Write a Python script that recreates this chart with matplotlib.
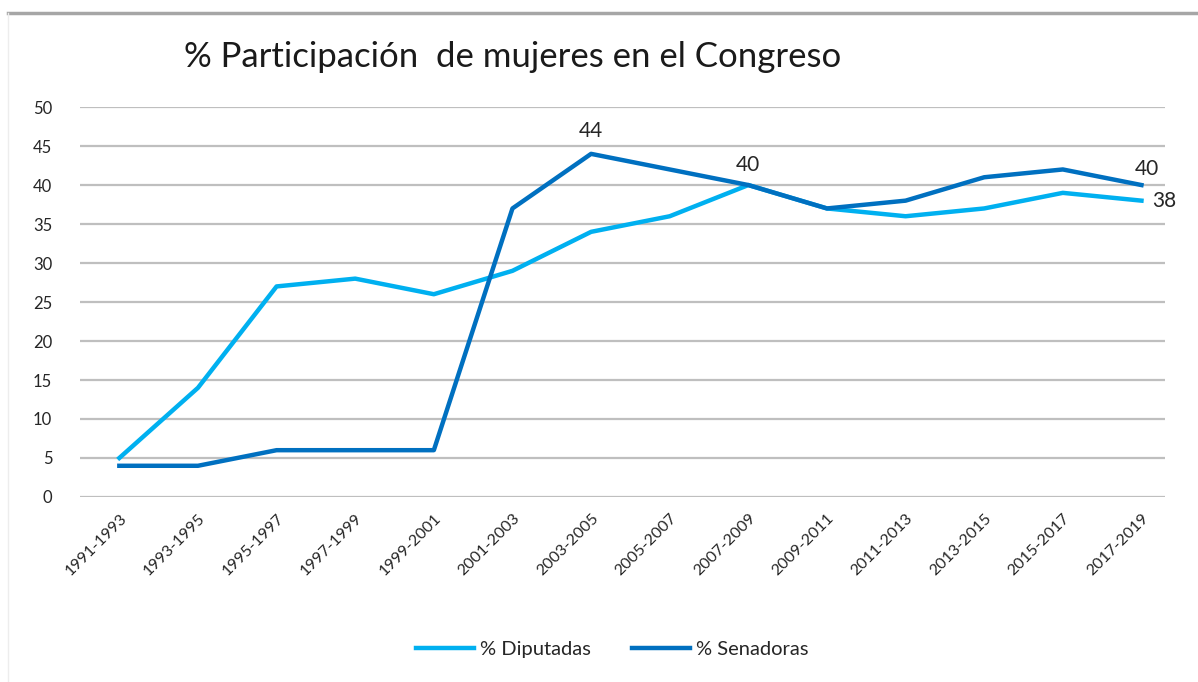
import matplotlib
matplotlib.use("Agg")
import matplotlib.pyplot as plt
from matplotlib.lines import Line2D

plt.rcParams['font.family'] = ['Lato', 'DejaVu Sans']

periods = ["1991-1993", "1993-1995", "1995-1997", "1997-1999", "1999-2001",
           "2001-2003", "2003-2005", "2005-2007", "2007-2009", "2009-2011",
           "2011-2013", "2013-2015", "2015-2017", "2017-2019"]
diputadas = [5, 14, 27, 28, 26, 29, 34, 36, 40, 37, 36, 37, 39, 38]
senadoras = [4, 4, 6, 6, 6, 37, 44, 42, 40, 37, 38, 41, 42, 40]
yticks = [0, 5, 10, 15, 20, 25, 30, 35, 40, 45, 50]

c_dip = "#00B0F0"
c_sen = "#0070C0"
txt = "#262626"

fig = plt.figure(figsize=(11.98, 6.82), dpi=100)
ax = fig.add_axes([0.0668, 0.2713, 0.9057, 0.5717])

x = list(range(len(periods)))
ax.plot(x, diputadas, color=c_dip, lw=3.2, solid_joinstyle='round', zorder=3)
ax.plot(x, senadoras, color=c_sen, lw=3.2, solid_joinstyle='round', zorder=4)

ax.set_ylim(0, 50)
ax.set_xlim(-0.5, 13.3)
ax.set_yticks(yticks)
ax.set_yticklabels([str(t) for t in yticks], fontsize=12, color=txt)
ax.set_xticks(x)
ax.set_xticklabels(periods, rotation=45, ha='right', rotation_mode='anchor',
                   fontsize=11.5, color=txt)
ax.tick_params(axis='both', length=0)
ax.tick_params(axis='y', pad=20)
ax.tick_params(axis='x', pad=10)
for s in ax.spines.values():
    s.set_visible(False)
ax.grid(axis='y', color='#BFBFBF', lw=1.6, zorder=0)
ax.set_axisbelow(True)

# data labels
ax.annotate(str(senadoras[6]), (6, senadoras[6]), xytext=(0, 9), textcoords='offset points',
            ha='center', va='bottom', fontsize=15, color=txt)
ax.annotate(str(diputadas[8]), (8, diputadas[8]), xytext=(0, 7), textcoords='offset points',
            ha='center', va='bottom', fontsize=15, color=txt)
ax.annotate(str(senadoras[13]), (13, senadoras[13]), xytext=(4, 4), textcoords='offset points',
            ha='center', va='bottom', fontsize=15, color=txt)
ax.annotate(str(diputadas[13]), (13, diputadas[13]), xytext=(8, 0), textcoords='offset points',
            ha='left', va='center', fontsize=15, color=txt)

fig.text(0.4275, 0.916, "% Participación  de mujeres en el Congreso", ha='center', va='center',
         fontsize=25, color='#1a1a1a')

handles = [Line2D([], [], color=c_dip, lw=3.2), Line2D([], [], color=c_sen, lw=3.2)]
fig.legend(handles, ["% Diputadas", "% Senadoras"], loc='center', bbox_to_anchor=(0.511, 0.047),
           ncol=2, frameon=False, fontsize=14.5, handlelength=2.9, columnspacing=2.0,
           handletextpad=0.3, labelcolor=txt)

# top border line
fig.add_artist(Line2D([0.007, 1.0], [1 - 13/682, 1 - 13/682], color='#A6A6A6', lw=2.5,
                      transform=fig.transFigure))
fig.add_artist(Line2D([0.007, 0.007], [0.0, 1 - 13/682], color='#EDEDED', lw=1.0,
                      transform=fig.transFigure))

fig.savefig("out.png", dpi=100, facecolor='white')
